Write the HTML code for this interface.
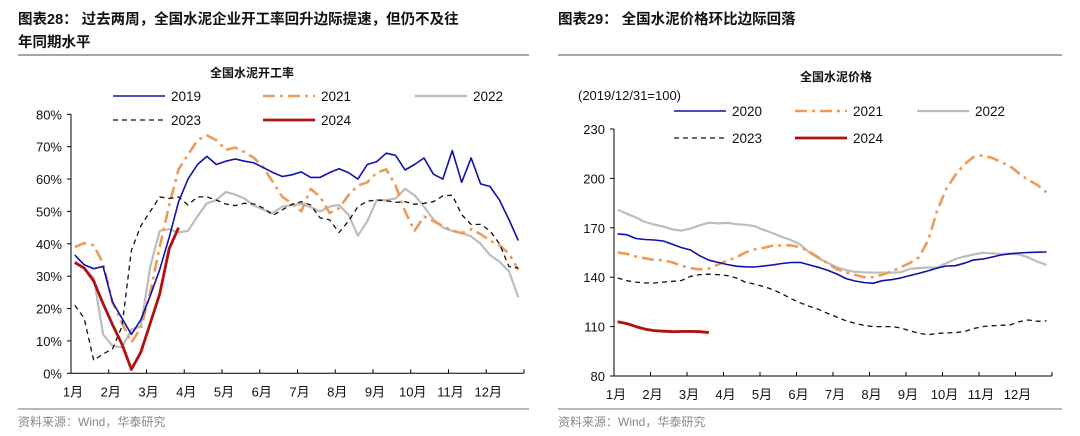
<!DOCTYPE html>
<html><head><meta charset="utf-8">
<style>
html,body{margin:0;padding:0;background:#fff;}
svg{display:block;font-family:"Liberation Sans","Noto Sans CJK SC",sans-serif;}
.ttl{font-size:14.5px;font-weight:bold;fill:#111;}
.sub{font-size:12px;font-weight:bold;fill:#111;}
.tk{font-size:13px;fill:#111;}
.lg{font-size:13.5px;fill:#111;}
.ft{font-size:12px;fill:#888;}
</style></head>
<body>
<svg id="svg" width="1080" height="436" viewBox="0 0 1080 436">
<text class="ttl" x="18" y="24">图表28：  过去两周，全国水泥企业开工率回升边际提速，但仍不及往</text>
<text class="ttl" x="18" y="47">年同期水平</text>
<line x1="18" y1="55" x2="529" y2="55" stroke="#5f7685" stroke-width="1.2"/>
<text class="ttl" x="558" y="24">图表29：  全国水泥价格环比边际回落</text>
<line x1="558" y1="55" x2="1062" y2="55" stroke="#5f7685" stroke-width="1.2"/>
<text class="sub" x="252" y="77" text-anchor="middle">全国水泥开工率</text>
<text class="sub" x="836" y="81" text-anchor="middle">全国水泥价格</text>
<text class="tk" x="578" y="100">(2019/12/31=100)</text>
<line x1="18" y1="409" x2="529" y2="409" stroke="#5f7685" stroke-width="1"/>
<line x1="558" y1="409" x2="1062" y2="409" stroke="#5f7685" stroke-width="1"/>
<text class="ft" x="18" y="426">资料来源：Wind，华泰研究</text>
<text class="ft" x="558" y="426">资料来源：Wind，华泰研究</text>
<g id="left"></g><g id="right"></g>
</svg>
<script>
const months = ["1月","2月","3月","4月","5月","6月","7月","8月","9月","10月","11月","12月"];
const leftTicks = [0,10,20,30,40,50,60,70,80];
const rightTicks = [80,110,140,170,200,230];
const s2019 = [36.5,33.5,32.3,33,22,17,12,16.5,24,32,42,53,60,64.5,67,64.5,65.5,66.2,65.5,65,63.5,62,60.8,61.3,62.2,60.5,60.5,62,63.2,62,60,64.5,65.4,68,67.3,62.8,64.5,66.5,61.5,60,68.8,59,66.5,58.5,57.7,53.5,47.5,41];
const s2021 = [39,40.2,39.5,34,22,15.5,9.5,14,25,39,52,63,67.5,72,73.5,72,69,69.7,68.3,66.5,63.5,59,54.5,52.5,50,57,54.5,49.5,51,55,58,59,62,63,58,50,44,48.4,47,45.5,44,43.3,44.5,43,41,39.5,37,32];
const s2022 = [34.5,32.5,29.5,12,8.5,8,13.5,14.5,33,44,44.5,43.5,44,48.5,52.5,53.5,56,55.2,54,51.8,50.5,49.5,51.5,52,52.3,51.3,50,51.5,52,49,42.5,47,53.5,53.5,54,57,55,51.5,47.5,45,44,43.3,42.3,40,36.5,34.5,31.5,23.5];
const s2023 = [21,17,4,6,7.5,14.5,38,45.5,50,54.5,54,54.5,52,54.5,54.5,53.5,52.3,51.8,52.5,52.3,51,48.8,50.5,52.2,53,52,48,47.4,43.5,47,51.5,53.2,53.5,53.3,52.8,53,52.2,52.5,53,54.8,55,49,46,46,44,40,33,32.5];
const s2024 = [34.2,32.5,28.5,21.5,15,9,1.2,6.5,15.5,24.5,38.5,45];
const p2020 = [166.3,165.8,163.5,162.9,162.6,162,160,158,156.5,153,150.3,149,147.7,146.7,146.3,146.2,146.8,147.5,148.3,148.9,149,147.5,146,144.2,142,139.2,137.7,136.8,136.3,137.9,138.5,139.5,141,142.3,143.8,145.5,146.8,147,148.5,150.5,151,152.2,153.5,154.2,154.7,155,155.2,155.3];
const p2021 = [155,154.2,152.6,151.5,150.5,150.3,149,147,145.5,144.8,145.2,147.7,150,152,155,156.8,157.8,159.2,159.4,159.3,158.3,155.5,152,148.5,145,143,141.5,140,140,141.5,143.5,146,148.5,152,162,180,193.5,202,208.5,213,214,212.5,210,207.5,203,199,196,191.5];
const p2022 = [181,178.5,176.3,173.5,172,170.7,169,168.3,169.5,171.5,173.1,172.7,173,172.2,171.8,171,168.7,166.7,164.5,162.5,160,155,151.5,148.8,146,144.3,143.3,143,142.8,142.8,142.8,143,145,145.6,145.8,145.8,148.5,151,152.6,153.8,154.8,154.5,154.1,154.4,153.8,152,149.4,147.5];
const p2023 = [139.5,137.9,137,136.5,136.5,137,137.5,138,140.5,141.6,141.8,141.6,141,139.5,137,135.8,134.3,132.5,130,127,124.5,122.3,120.5,118,115.8,113.6,112,110.8,110,110,110,109.2,107.5,106,105,105.8,106.2,106.3,107,108.8,110,110.5,110.8,111,113,114,113.2,113.5];
const p2024 = [113,111.8,110,108.5,107.6,107.2,106.9,107,107.1,106.9,106.4];

const NS="http://www.w3.org/2000/svg";
function mk(parent,tag,attrs){const e=document.createElementNS(NS,tag);for(const k in attrs)e.setAttribute(k,attrs[k]);parent.appendChild(e);return e;}
const styles={
 blue:{stroke:"#1010b0",w:1.6,dash:""},
 orange:{stroke:"#ef9a55",w:2.6,dash:"12 5 3 5"},
 gray:{stroke:"#bdbdbd",w:2.2,dash:""},
 black:{stroke:"#111",w:1.3,dash:"5 4"},
 red:{stroke:"#b01010",w:2.8,dash:""}
};
function chart(g,cfg){
  const xs=m=>cfg.x0+m*cfg.mw;
  const ys=v=>cfg.yb-(v-cfg.vmin)/(cfg.vmax-cfg.vmin)*(cfg.yb-cfg.yt);
  let a=mk(g,"line",{x1:cfg.x0,y1:cfg.yt,x2:cfg.x0,y2:cfg.yb,stroke:"#000","stroke-width":1});
  
  
  a=mk(g,"line",{x1:cfg.x0,y1:cfg.yb,x2:cfg.x1,y2:cfg.yb,stroke:"#000","stroke-width":1});
  
  
  cfg.ticks.forEach(v=>{
    const y=ys(v);
    const t=mk(g,"line",{x1:cfg.x0-4,y1:y,x2:cfg.x0,y2:y,stroke:"#000"});
    
    
    const l=mk(g,"text",{x:cfg.x0-9,y:y+5,"text-anchor":"end","class":"tk"});
    l.textContent=cfg.fmt(v);
    
    
  });
  for(let k=0;k<=12;k++){
    const x=Math.min(xs(k),cfg.x1);
    const t=mk(g,"line",{x1:x,y1:cfg.yb-4,x2:x,y2:cfg.yb,stroke:"#000"});
    
    
  }
  months.forEach((m,k)=>{
    const l=mk(g,"text",{x:xs(k)+2,y:cfg.yb+23,"text-anchor":"middle","class":"tk"});
    l.textContent=m;
    
    
  });
  cfg.series.forEach(s=>{
    const st=styles[s.st];
    const pts=s.d.map((v,i)=>xs(0.1+i/4).toFixed(1)+","+ys(v).toFixed(1)).join(" ");
    const pl=mk(g,"polyline",{points:pts,fill:"none",stroke:st.stroke,"stroke-width":st.w,"stroke-dasharray":st.dash,"stroke-linejoin":"round"});
    
    
    const ln=mk(g,"line",{x1:s.lx,y1:s.ly,x2:s.lx+52,y2:s.ly,stroke:st.stroke,"stroke-width":st.w,"stroke-dasharray":st.dash});
    
    
    const tx=mk(g,"text",{x:s.lx+58,y:s.ly+5,"class":"lg"});
    tx.textContent=s.n;
    
    
  });
}
chart(document.getElementById("left"),{p:"left",x0:71,x1:524,mw:37.75,yt:114.3,yb:373.3,vmin:0,vmax:80,ticks:leftTicks,fmt:v=>v+"%",
 series:[{n:"2022",d:s2022,st:"gray",lx:415,ly:96},{n:"2021",d:s2021,st:"orange",lx:263,ly:96},{n:"2023",d:s2023,st:"black",lx:113,ly:120},{n:"2019",d:s2019,st:"blue",lx:113,ly:96},{n:"2024",d:s2024,st:"red",lx:263,ly:120}]});
chart(document.getElementById("right"),{p:"right",x0:614,x1:1052,mw:36.5,yt:129,yb:376,vmin:80,vmax:230,ticks:rightTicks,fmt:v=>String(v),
 series:[{n:"2022",d:p2022,st:"gray",lx:917,ly:111},{n:"2021",d:p2021,st:"orange",lx:795,ly:111},{n:"2023",d:p2023,st:"black",lx:674,ly:138},{n:"2020",d:p2020,st:"blue",lx:674,ly:111},{n:"2024",d:p2024,st:"red",lx:795,ly:138}]});
</script>
</body></html>
